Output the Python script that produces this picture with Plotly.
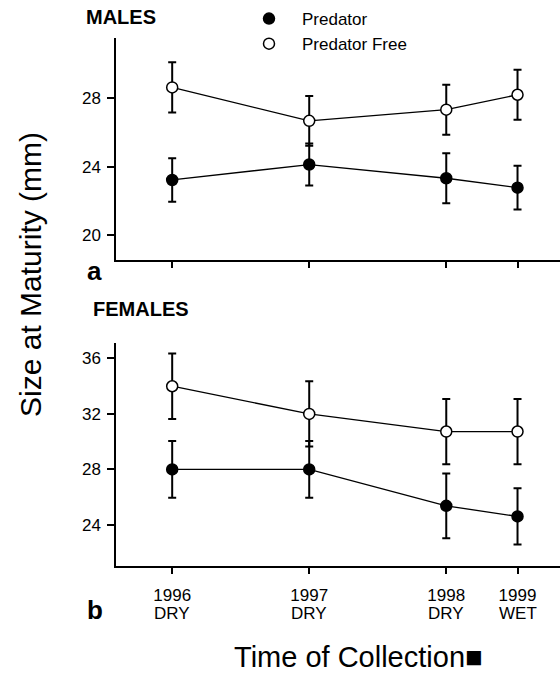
import plotly.graph_objects as go

# ---- data ----
collection_time = [1996.0, 1997.0, 1998.0, 1998.52]
year_labels = ["1996", "1997", "1998", "1999"]
season_labels = ["DRY", "DRY", "DRY", "WET"]

male_pred = [23.22, 24.12, 23.32, 22.77]
male_pred_err = [1.27, 1.23, 1.46, 1.28]
male_free = [28.62, 26.67, 27.32, 28.19]
male_free_err = [1.46, 1.45, 1.46, 1.46]

fem_pred = [28.0, 28.0, 25.38, 24.62]
fem_pred_err = [2.04, 2.04, 2.33, 2.03]
fem_free = [33.99, 32.0, 30.73, 30.73]
fem_free_err = [2.36, 2.35, 2.35, 2.35]

FONT = "Arial, Liberation Sans, Helvetica, sans-serif"


def line_trace(y, xa, ya):
    return go.Scatter(x=collection_time, y=y, mode="lines", xaxis=xa, yaxis=ya,
                      showlegend=False, hoverinfo="skip",
                      line=dict(color="black", width=1.3))


def mark_trace(y, err, filled, name, xa, ya, show):
    return go.Scatter(
        x=collection_time, y=y, name=name, mode="markers",
        xaxis=xa, yaxis=ya, showlegend=show,
        marker=dict(size=11, symbol="circle",
                    color="black" if filled else "white",
                    line=dict(color="black", width=1.5)),
        error_y=dict(type="data", array=err, visible=True,
                     color="black", thickness=2, width=4),
    )


fig = go.Figure()
for y, xa, ya in [(male_pred, "x", "y"), (male_free, "x", "y"),
                  (fem_pred, "x2", "y2"), (fem_free, "x2", "y2")]:
    fig.add_trace(line_trace(y, xa, ya))
fig.add_trace(mark_trace(male_pred, male_pred_err, True, "Predator", "x", "y", True))
fig.add_trace(mark_trace(male_free, male_free_err, False, "Predator Free", "x", "y", True))
fig.add_trace(mark_trace(fem_pred, fem_pred_err, True, "Predator", "x2", "y2", False))
fig.add_trace(mark_trace(fem_free, fem_free_err, False, "Predator Free", "x2", "y2", False))

xcommon = dict(range=[1995.59, 1998.83], tickvals=collection_time,
               showline=True, linecolor="black", linewidth=1.5,
               ticks="outside", ticklen=6, tickwidth=1.5, tickcolor="black",
               showgrid=False, zeroline=False,
               tickfont=dict(family=FONT, size=17, color="black"))
ycommon = dict(showline=True, linecolor="black", linewidth=1.5,
               ticks="outside", ticklen=7, tickwidth=1.5, tickcolor="black",
               showgrid=False, zeroline=False, ticklabelstandoff=3,
               tickfont=dict(family=FONT, size=17, color="black"))

W, H = 560, 677
L, R, T, B = 116, 0, 38, 111
pw, ph = W - L - R, H - T - B

fig.update_layout(
    width=W, height=H,
    margin=dict(l=L, r=R, t=T, b=B),
    paper_bgcolor="white", plot_bgcolor="white",
    font=dict(family=FONT, color="black"),
    xaxis=dict(**xcommon, anchor="y", showticklabels=False),
    yaxis=dict(**ycommon, domain=[0.5795, 1.0], range=[18.55, 31.5],
               tickvals=[20, 24, 28]),
    xaxis2=dict(**xcommon, anchor="y2", ticktext=year_labels,
                ticklabelstandoff=7),
    yaxis2=dict(**ycommon, domain=[0.0, 0.4223], range=[21.05, 37.1],
                tickvals=[24, 28, 32, 36]),
    legend=dict(x=(236 - L) / pw, y=1.070, xanchor="left", yanchor="top",
                bgcolor="rgba(0,0,0,0)", font=dict(family=FONT, size=17),
                itemwidth=56, tracegroupgap=0),
)


def px(x):
    return (x - L) / pw


def py(y):
    return (H - B - y) / ph


ann = [
    ("<b>MALES</b>", 85, 17, 20, "left", 0),
    ("<b>FEMALES</b>", 92, 309, 20, "left", 0),
    ("<b>a</b>", 86, 271, 26, "left", 0),
    ("<b>b</b>", 86, 610, 26, "left", 0),
    ("Size at Maturity (mm)", 30, 275, 30, "center", -90),
    ("Time of Collection■", 358, 657, 29, "center", 0),
]
for text, x, y, size, xanchor, angle in ann:
    fig.add_annotation(text=text, x=px(x), y=py(y), xref="paper", yref="paper",
                       xanchor=xanchor, yanchor="middle", showarrow=False,
                       textangle=angle, borderpad=0,
                       font=dict(family=FONT, size=size, color="black"))

# season line under the year tick labels
for xv, s in zip(collection_time, season_labels):
    fig.add_annotation(text=s, x=xv, xref="x2", y=py(613), yref="paper",
                       xanchor="center", yanchor="middle", showarrow=False,
                       font=dict(family=FONT, size=17, color="black"))

fig.write_html("out.html")
